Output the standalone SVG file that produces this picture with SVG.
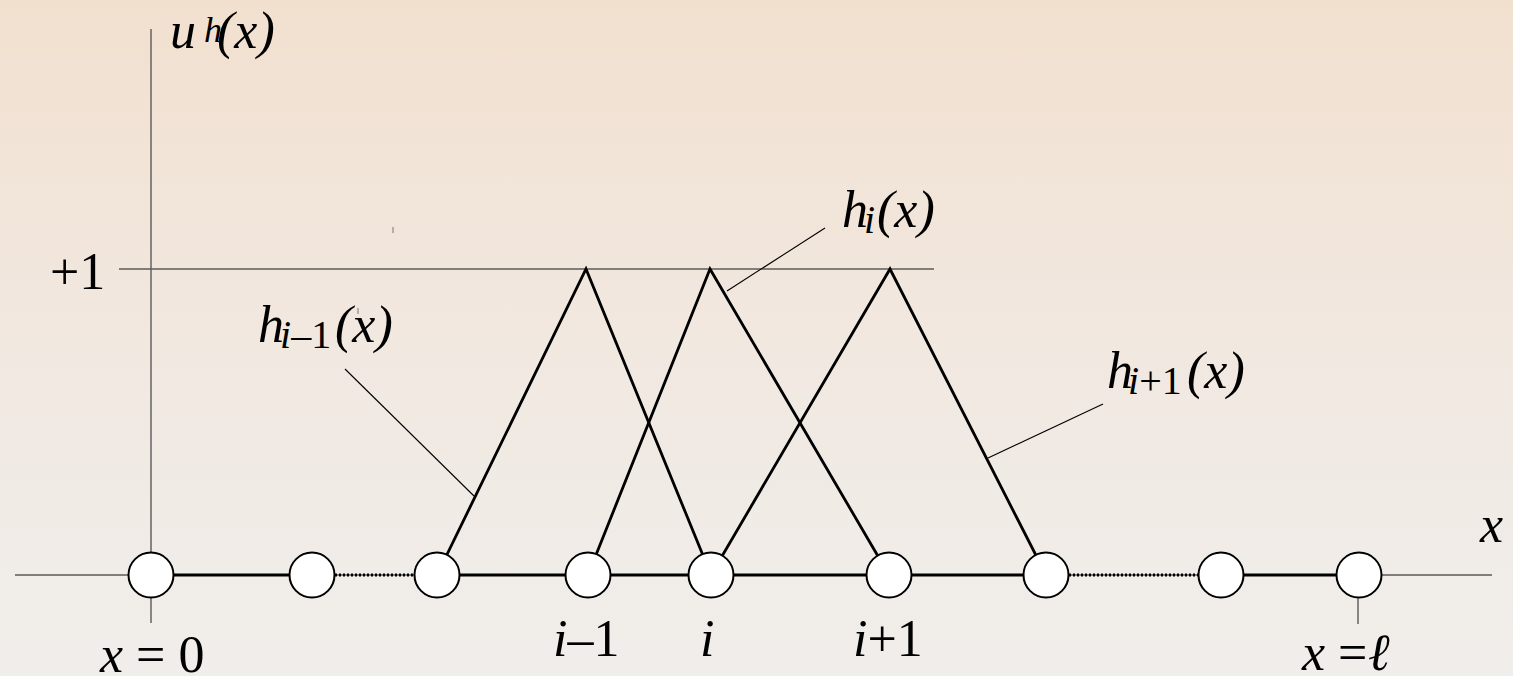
<svg xmlns="http://www.w3.org/2000/svg" width="1513" height="676" viewBox="0 0 1513 676">
  <defs>
    <linearGradient id="bg" x1="0" y1="0" x2="0" y2="1">
      <stop offset="0" stop-color="#f2e0cf"/>
      <stop offset="0.5" stop-color="#f1e8e0"/>
      <stop offset="1" stop-color="#f0eeeb"/>
    </linearGradient>
    <style>
      .axis { stroke: #5a5a5a; stroke-width: 1.4; fill: none; }
      .thick { stroke: #000; stroke-width: 2.8; fill: none; }
      .dot { stroke: #000; stroke-width: 2.8; stroke-dasharray: 2 2; fill: none; }
      .leader { stroke: #000; stroke-width: 1.1; fill: none; }
      .node { fill: #fff; stroke: #000; stroke-width: 2; }
      .mark { stroke: #777; stroke-width: 1; }
    </style>
  </defs>
  <rect x="0" y="0" width="1513" height="676" fill="url(#bg)"/>

  <g id="axes">
    <line class="axis" x1="151" y1="29" x2="151" y2="623"/>
    <line class="axis" x1="15" y1="575" x2="1492" y2="575"/>
    <line class="axis" x1="119" y1="269" x2="934" y2="269"/>
    <line class="axis" x1="1358" y1="597" x2="1358" y2="624"/>
    <line class="mark" x1="393" y1="227" x2="393" y2="233"/>
    <line class="mark" x1="358" y1="308" x2="358" y2="314"/>
  </g>

  <g id="connectors">
    <line class="thick" x1="151" y1="575" x2="312" y2="575"/>
    <line class="dot" x1="335" y1="575" x2="414" y2="575"/>
    <line class="thick" x1="437" y1="575" x2="1046" y2="575"/>
    <line class="dot" x1="1069" y1="575" x2="1199" y2="575"/>
    <line class="thick" x1="1221" y1="575" x2="1358" y2="575"/>
    <polyline id="h-im1" class="thick" points="437,575 586,269 711,575"/>
    <polyline id="h-i" class="thick" points="588,575 710,269 889,575"/>
    <polyline id="h-ip1" class="thick" points="711,575 890,269 1046,575"/>
    <line class="leader" x1="345" y1="369" x2="474" y2="496"/>
    <line class="leader" x1="727" y1="291" x2="825" y2="228"/>
    <line class="leader" x1="988" y1="458" x2="1103" y2="404"/>
  </g>

  <g id="nodes">
    <circle id="n0" class="node" cx="151" cy="575" r="22.5"/>
    <circle id="n1" class="node" cx="312" cy="575" r="22.5"/>
    <circle id="n2" class="node" cx="437" cy="575" r="22.5"/>
    <circle id="n3" class="node" cx="588" cy="575" r="22.5"/>
    <circle id="n4" class="node" cx="711" cy="575" r="22.5"/>
    <circle id="n5" class="node" cx="889" cy="575" r="22.5"/>
    <circle id="n6" class="node" cx="1046" cy="575" r="22.5"/>
    <circle id="n7" class="node" cx="1221" cy="575" r="22.5"/>
    <circle id="n8" class="node" cx="1359" cy="575" r="22.5"/>
  </g>

  <g id="labels">
    <text style="font-family:'Liberation Serif',serif;font-size:52px;font-style:italic" x="170" y="48">u<tspan style="font-size:36px" x="204" y="42">h</tspan><tspan x="217" y="48">(x)</tspan></text>
    <text style="font-family:'Liberation Serif',serif;font-size:52px" x="50" y="289">+1</text>
    <text style="font-family:'Liberation Serif',serif;font-size:52px;font-style:italic" x="258" y="342">h<tspan style="font-size:40px" x="280" y="348">i</tspan><tspan style="font-size:40px;font-style:normal">&#8211;1</tspan><tspan x="335" y="342">(x)</tspan></text>
    <text style="font-family:'Liberation Serif',serif;font-size:52px;font-style:italic" x="842" y="227">h<tspan style="font-size:40px" x="864" y="233">i</tspan><tspan x="877" y="227">(x)</tspan></text>
    <text style="font-family:'Liberation Serif',serif;font-size:52px;font-style:italic" x="1107" y="388">h<tspan style="font-size:40px" x="1128" y="394">i</tspan><tspan style="font-size:40px;font-style:normal">+1</tspan><tspan x="1187" y="388">(x)</tspan></text>
    <text style="font-family:'Liberation Serif',serif;font-size:52px;font-style:italic" x="1480" y="542">x</text>
    <text style="font-family:'Liberation Serif',serif;font-size:52px" x="100" y="672"><tspan style="font-style:italic">x</tspan> = 0</text>
    <text style="font-family:'Liberation Serif',serif;font-size:52px" x="553" y="656"><tspan style="font-style:italic">i</tspan>&#8211;1</text>
    <text style="font-family:'Liberation Serif',serif;font-size:52px;font-style:italic" x="700" y="656">i</text>
    <text style="font-family:'Liberation Serif',serif;font-size:52px" x="853" y="656"><tspan style="font-style:italic">i</tspan>+1</text>
    <text style="font-family:'Liberation Serif',serif;font-size:52px" x="1302" y="670"><tspan style="font-style:italic">x</tspan> = <tspan style="font-style:italic" x="1368">&#8467;</tspan></text>
  </g>
</svg>
